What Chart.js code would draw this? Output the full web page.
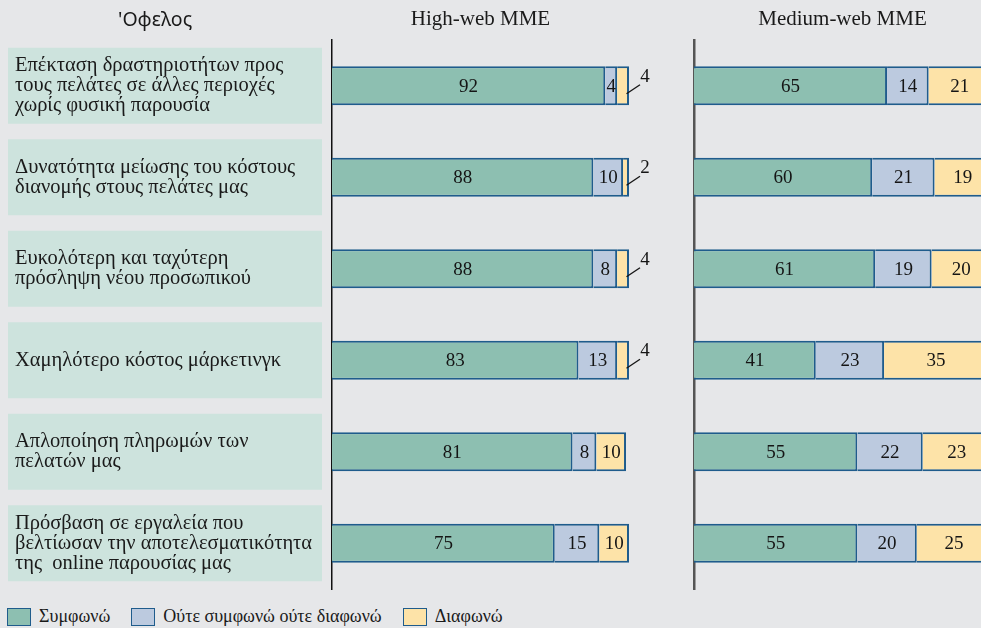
<!DOCTYPE html>
<html lang="el">
<head>
<meta charset="utf-8">
<title>Οφέλη online παρουσίας ΜΜΕ</title>
<script src="https://cdn.jsdelivr.net/npm/chart.js@4.4.1/dist/chart.umd.min.js"></script>
<style>
  html, body { margin: 0; padding: 0; background: #e6e7e9; overflow: hidden; }
  #cadre { position: relative; width: 981px; height: 628px; overflow: hidden; }
  #chartHigh { position: absolute; left: 0; top: 0; }
  #chartMedium { position: absolute; left: 660px; top: 0; }
  #legende {
    position: absolute; left: 7px; top: 606px;
    display: flex; align-items: center;
    font-family: "Liberation Serif", serif; font-size: 18px; color: #1a1a1a;
  }
  .item { display: flex; align-items: center; margin-right: 21px; }
  .carre { box-sizing: border-box; width: 24px; height: 18px; border: 1.5px solid #1f5c8c; margin-right: 8px; }
</style>
</head>
<body>
<div id="cadre">
  <canvas id="chartHigh" width="660" height="600"></canvas>
  <canvas id="chartMedium" width="340" height="600"></canvas>
  <div id="legende"></div>
</div>

<script>
//? Données du graphique.

const categories = [
  ["Επέκταση δραστηριοτήτων προς", "τους πελάτες σε άλλες περιοχές", "χωρίς φυσική παρουσία"],
  ["Δυνατότητα μείωσης του κόστους", "διανομής στους πελάτες μας"],
  ["Ευκολότερη και ταχύτερη", "πρόσληψη νέου προσωπικού"],
  ["Χαμηλότερο κόστος μάρκετινγκ"],
  ["Απλοποίηση πληρωμών των", "πελατών μας"],
  ["Πρόσβαση σε εργαλεία που", "βελτίωσαν την αποτελεσματικότητα", "της  online παρουσίας μας"],
];

const seriesNoms = ["Συμφωνώ", "Ούτε συμφωνώ ούτε διαφωνώ", "Διαφωνώ"];

const highSymfono = [92, 88, 88, 83, 81, 75];
const highOute = [4, 10, 8, 13, 8, 15];
const highDiafono = [4, 2, 4, 4, 10, 10];

const mediumSymfono = [65, 60, 61, 41, 55, 55];
const mediumOute = [14, 21, 19, 23, 22, 20];
const mediumDiafono = [21, 19, 20, 35, 23, 25];

const titreOfelos = "'Οφελος";
const titreHigh = "High-web MME";
const titreMedium = "Medium-web MME";

const couleursFond = ["#8dbfb1", "#bccadf", "#fde3a8"];
const couleurBordure = "#1f5c8c";
const police = "'Liberation Serif', serif";

//? -------------------------------------------------

//? Construction des datasets empilés.

const construireDatasets = (valeurs) =>
  valeurs.map((data, i) => ({
    label: seriesNoms[i],
    data,
    backgroundColor: couleursFond[i],
    borderColor: couleurBordure,
    borderWidth: 2,
    borderSkipped: "start",
    barPercentage: 0.426,
    categoryPercentage: 1,
  }));

//? -------------------------------------------------

//? Valeurs écrites dans les barres (petites valeurs "Διαφωνώ" sorties avec un trait).

const pluginValeurs = (avecRenvoi) => ({
  id: "valeurs",
  afterDatasetsDraw(chart) {
    const ctx = chart.ctx;
    ctx.save();
    ctx.font = "19px " + police;
    ctx.fillStyle = "#151515";
    ctx.strokeStyle = "#151515";
    ctx.lineWidth = 1.3;
    ctx.textAlign = "center";
    ctx.textBaseline = "middle";
    chart.data.datasets.forEach((ds, i) => {
      chart.getDatasetMeta(i).data.forEach((bar, j) => {
        const v = ds.data[j];
        const { x, y, base } = bar.getProps(["x", "y", "base"], true);
        if (avecRenvoi && i === 2 && v <= 4) {
          ctx.beginPath();
          ctx.moveTo(x - 2.5, y + 8);
          ctx.lineTo(x + 11, y - 1);
          ctx.stroke();
          ctx.fillText(String(v), x + 16, y - 9);
        } else {
          ctx.fillText(String(v), (x + base) / 2, y + 1);
        }
      });
    });
    ctx.restore();
  },
});

//? -------------------------------------------------

//? Cadres verts derrière les libellés + titre de la colonne.

const pluginCadres = {
  id: "cadres",
  beforeDraw(chart) {
    const { ctx } = chart;
    const y = chart.scales.y;
    ctx.save();
    ctx.fillStyle = "#cde3dd";
    y.ticks.forEach((t, i) => {
      const cy = y.getPixelForTick(i);
      ctx.fillRect(y.left - 7, cy - 38, y.width - 3, 76);
    });
    ctx.fillStyle = "#1a1a1a";
    ctx.font = "19.5px 'Noto Sans', sans-serif";
    ctx.textAlign = "left";
    ctx.textBaseline = "middle";
    ctx.fillText(titreOfelos, 118, 20);
    ctx.restore();
  },
};

//? -------------------------------------------------

//? Options communes aux deux graphiques.

const axeX = (titre) => ({
  position: "top",
  stacked: true,
  min: 0,
  max: 100,
  grid: { display: false, drawTicks: false },
  border: { display: false },
  ticks: { display: false },
  title: {
    display: true,
    text: titre,
    color: "#1a1a1a",
    font: { family: police, size: 21, lineHeight: 1.2 },
    padding: { top: 7, bottom: 0 },
  },
  afterFit: (s) => {
    s.height = 40;
  },
});

const optionsBase = (gauche, droite, axeY, titre) => ({
  indexAxis: "y",
  responsive: false,
  animation: false,
  layout: { padding: { left: gauche, right: droite, top: 0, bottom: 11 } },
  plugins: { legend: { display: false }, tooltip: { enabled: false } },
  scales: { x: axeX(titre), y: axeY },
});

//? -------------------------------------------------

//? Graphique High-web MME (avec les libellés).

new Chart(document.getElementById("chartHigh").getContext("2d"), {
  type: "bar",
  data: {
    labels: categories,
    datasets: construireDatasets([highSymfono, highOute, highDiafono]),
  },
  options: optionsBase(
    15,
    31,
    {
      stacked: true,
      grid: { display: false, drawTicks: false },
      border: { display: true, color: "#111", width: 1.5 },
      ticks: {
        autoSkip: false,
        crossAlign: "far",
        padding: 0,
        color: "#1a1a1a",
        font: { family: police, size: 20.5, lineHeight: 0.976 },
      },
      afterFit: (s) => {
        // largeur fixe de la colonne des libellés, sans marge haut/bas
        s.width = 317;
        s.paddingTop = 0;
        s.paddingBottom = 0;
      },
    },
    titreHigh
  ),
  plugins: [pluginCadres, pluginValeurs(true)],
});

//? -------------------------------------------------

//? Graphique Medium-web MME.

new Chart(document.getElementById("chartMedium").getContext("2d"), {
  type: "bar",
  data: {
    labels: categories,
    datasets: construireDatasets([mediumSymfono, mediumOute, mediumDiafono]),
  },
  options: optionsBase(
    34,
    9,
    {
      stacked: true,
      grid: { display: false, drawTicks: false },
      border: { display: true, color: "#555", width: 2.5 },
      ticks: { display: false },
      afterFit: (s) => {
        s.width = 0;
      },
    },
    titreMedium
  ),
  plugins: [pluginValeurs(false)],
});

//? -------------------------------------------------

//? Légende en bas.

const legende = document.getElementById("legende");
seriesNoms.forEach((nom, i) => {
  const item = document.createElement("div");
  item.className = "item";
  const carre = document.createElement("span");
  carre.className = "carre";
  carre.style.background = couleursFond[i];
  const texte = document.createElement("span");
  texte.textContent = nom;
  item.appendChild(carre);
  item.appendChild(texte);
  legende.appendChild(item);
});
</script>
</body>
</html>
